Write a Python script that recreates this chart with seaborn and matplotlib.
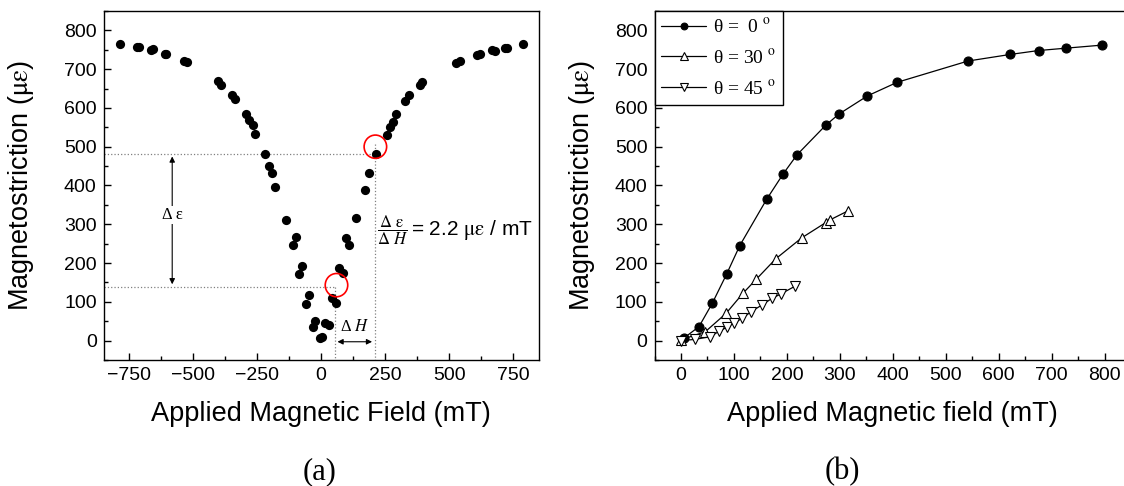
import matplotlib
matplotlib.use("Agg")
import matplotlib.pyplot as plt
from matplotlib.patches import Ellipse
from matplotlib.ticker import MultipleLocator
import seaborn as sns
import pandas as pd

# panel (a): magnetostriction vs applied field, full sweep
field_a = [-787, -718, -712, -664, -657, -611, -605, -535, -524, -404, -390, -349, -335,
           -293, -281, -268, -258, -219, -205, -192, -179, -139, -100, -111, -74, -86,
           -46, -59, -22, -33, -6, 5, 17, 29,
           44, 57, 71, 84, 97, 110, 135, 172, 188, 213, 256, 271, 279, 291, 328, 343,
           386, 395, 527, 542, 608, 621, 667, 678, 718, 725, 790]
strain_a = [766, 756, 757, 750, 753, 740, 740, 722, 718, 669, 660, 633, 622,
            585, 568, 555, 532, 480, 450, 431, 397, 312, 267, 246, 193, 171,
            117, 95, 51, 35, 6, 10, 46, 39,
            111, 96, 187, 175, 264, 246, 316, 389, 433, 480, 530, 552, 563, 585, 617, 634,
            658, 667, 717, 722, 736, 740, 749, 748, 755, 755, 766]

# panel (b): three field angles
field_0 = [6, 34, 59, 86, 111, 162, 193, 219, 273, 298, 352, 408, 542, 622, 675, 726, 795]
strain_0 = [7, 36, 96, 171, 245, 365, 430, 479, 555, 584, 631, 666, 721, 738, 748, 754, 762]
field_30 = [0, 46, 85, 117, 142, 179, 228, 273, 281, 316]
strain_30 = [2, 23, 70, 122, 158, 211, 265, 304, 311, 335]
field_45 = [0, 26, 55, 72, 86, 100, 116, 133, 153, 172, 188, 215]
strain_45 = [0, 3, 10, 24, 34, 45, 58, 75, 92, 109, 120, 140]

df_a = pd.DataFrame({'field': field_a, 'strain': strain_a})

sns.set_style('ticks')
plt.rcParams['font.family'] = ['Liberation Sans', 'DejaVu Sans']
plt.rcParams['mathtext.fontset'] = 'stix'
plt.rcParams['axes.linewidth'] = 1.0
plt.rcParams['axes.edgecolor'] = 'black'
plt.rcParams['text.color'] = 'black'
plt.rcParams['axes.labelcolor'] = 'black'
plt.rcParams['xtick.color'] = 'black'
plt.rcParams['ytick.color'] = 'black'

fig = plt.figure(figsize=(11.24, 4.86), dpi=100)
ax1 = fig.add_axes([0.0922, 0.2593, 0.387, 0.7181])
ax2 = fig.add_axes([0.5823, 0.2593, 0.4241, 0.7181])

# ---- panel (a)
sns.scatterplot(data=df_a, x='field', y='strain', ax=ax1, color='black', s=44,
                edgecolor='black', linewidth=0, zorder=3)
ax1.set_xlim(-850, 850)
ax1.set_ylim(-50, 850)
ax1.xaxis.set_major_locator(MultipleLocator(250))
ax1.xaxis.set_minor_locator(MultipleLocator(125))

# guide lines for the slope estimate
dot = dict(color='gray', linestyle=':', linewidth=0.9)
ax1.plot([-850, 210], [482, 482], **dot)
ax1.plot([-850, 53], [138, 138], **dot)
ax1.plot([53, 53], [138, -50], **dot)
ax1.plot([210, 210], [508, -50], **dot)

ax1.annotate('', xy=(-582, 482), xytext=(-582, 138),
             arrowprops=dict(arrowstyle='<|-|>', color='black', lw=0.8, mutation_scale=8))
ax1.text(-582, 324, 'Δ ε', family='Liberation Serif', fontsize=12, ha='center', va='center',
         bbox=dict(facecolor='white', edgecolor='none', pad=1))
ax1.annotate('', xy=(53, -3), xytext=(210, -3),
             arrowprops=dict(arrowstyle='<|-|>', color='black', lw=0.8, mutation_scale=8))
ax1.text(131, 34, r'Δ $H$', family='Liberation Serif', fontsize=12, ha='center', va='center')

ax1.add_patch(Ellipse((212, 500), 88, 60, fill=False, edgecolor='red', lw=1.2, zorder=4))
ax1.add_patch(Ellipse((60, 143), 88, 60, fill=False, edgecolor='red', lw=1.2, zorder=4))

ax1.text(218, 285, r'$\dfrac{\Delta\ \mathrm{ε}}{\Delta\ H}$', fontsize=12,
         ha='left', va='center')
ax1.text(350, 285, r'= 2.2 $\mathrm{με}$ / mT', fontsize=15, ha='left', va='center')

ax1.set_xlabel('Applied Magnetic Field (mT)', fontsize=19.5)
ax1.set_ylabel(r'Magnetostriction ($\mathrm{με}$)', fontsize=19.5)
ax1.yaxis.set_label_coords(-0.155, 0.5)
ax1.xaxis.set_label_coords(0.5, -0.118)

# ---- panel (b)
line = dict(color='black', linewidth=0.9, markeredgecolor='black', markeredgewidth=0.8,
            sort=False, estimator=None)
sns.lineplot(x=field_0, y=strain_0, ax=ax2, marker='o', markersize=6.5,
             markerfacecolor='black', label=r'θ =  0 $^{\rm o}$', **line)
sns.lineplot(x=field_30, y=strain_30, ax=ax2, marker='^', markersize=7,
             markerfacecolor='white', label=r'θ = 30 $^{\rm o}$', **line)
sns.lineplot(x=field_45, y=strain_45, ax=ax2, marker='v', markersize=7,
             markerfacecolor='white', label=r'θ = 45 $^{\rm o}$', **line)
ax2.set_xlim(-50, 850)
ax2.set_ylim(-50, 850)
ax2.xaxis.set_major_locator(MultipleLocator(100))
ax2.xaxis.set_minor_locator(MultipleLocator(50))

leg = ax2.legend(loc='upper left', borderaxespad=0, fancybox=False, framealpha=1,
                 edgecolor='black', markerscale=0.75, handlelength=2.3,
                 prop={'family': 'Liberation Serif', 'size': 14}, labelspacing=0.6,
                 borderpad=0.35, handletextpad=0.35)
leg.get_frame().set_linewidth(1.0)

ax2.set_xlabel('Applied Magnetic field (mT)', fontsize=19.5)
ax2.set_ylabel(r'Magnetostriction ($\mathrm{με}$)', fontsize=19.5)
ax2.yaxis.set_label_coords(-0.12, 0.5)
ax2.xaxis.set_label_coords(0.5, -0.118)

for ax in (ax1, ax2):
    ax.yaxis.set_major_locator(MultipleLocator(100))
    ax.yaxis.set_minor_locator(MultipleLocator(50))
    ax.tick_params(which='both', direction='in', top=False, right=False, labelsize=14,
                   color='black', width=1.0)
    ax.tick_params(which='major', length=5, pad=5)
    ax.tick_params(which='minor', length=3)
    for sp in ax.spines.values():
        sp.set_visible(True)
        sp.set_color('black')

fig.text(0.2847, 0.029, '(a)', family='Liberation Serif', fontsize=22, ha='center', va='center')
fig.text(0.749, 0.029, '(b)', family='Liberation Serif', fontsize=22, ha='center', va='center')

fig.savefig('out.png', dpi=100)
